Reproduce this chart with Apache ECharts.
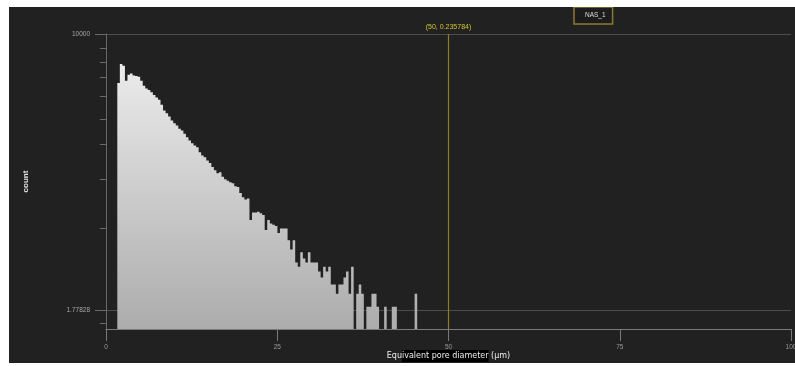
<!DOCTYPE html>
<html>
<head>
<meta charset="utf-8">
<script src="https://cdn.jsdelivr.net/npm/echarts@6/dist/echarts.min.js"></script>
<style>
  html, body { margin: 0; padding: 0; background: #ffffff; width: 795px; height: 366px; overflow: hidden; }
  #chart { position: absolute; left: 9px; top: 7px; width: 786px; height: 356px; }
</style>
</head>
<body>
<div id="chart"></div>
<script>
// Histogram of equivalent pore diameters (log-scaled counts)
const seriesName = 'NAS_1';
const xAxisName = 'Equivalent pore diameter (µm)';
const yAxisName = 'count';

// bins: first bin starts at binStart, all bins share binWidth (µm)
const binStart = 1.65;
const binWidth = 0.371;
const counts = [
  2170, 3910, 3710, 2330, 2800, 2920, 2740, 2700, 2630, 2330,
  1990, 1830, 1740, 1620, 1490, 1380, 1280, 1100, 916, 841,
  759, 670, 617, 574, 518, 491, 444, 399, 360, 331,
  308, 292, 250, 226, 214, 193, 178, 157, 142, 129,
  133, 116, 107, 102, 98, 95, 86, 84, 70, 61,
  57, 59, 30, 38, 38, 39, 37, 35, 22, 30,
  27, 26, 25, 20, 23, 23, 23, 16, 12, 16,
  8, 7, 11, 9, 8, 11, 8, 8, 8, 6,
  5, 7, 6, 7, 4, 4, 3, 4, 4, 5,
  6, 3, 7, 0, 3, 4, 3, 0, 2, 2,
  3, 3, 2, 0, 0, 2, 0, 0, 2, 2,
  0, 0, 0, 0, 0, 0, 0, 3
];

const xMin = 0, xMax = 100, xInterval = 25;
const yMin = 1, yMax = 10000;
const yLabelValues = [1.77828, 10000];
const yLabelTexts = ['1.77828', '10000'];
const yMinorTicks = [1.19, 23.5, 106, 315, 707, 1428, 2578, 4110, 6430];

const cursorX = 50;
const cursorLabel = '(50, 0.235784)';

const FONT = '"Liberation Sans", "DejaVu Sans", sans-serif';
const NAME_FONT = '"DejaVu Sans", sans-serif';

const binData = counts.map((c, i) => [binStart + i * binWidth, binStart + (i + 1) * binWidth, c]);

const chart = echarts.init(document.getElementById('chart'), null, { renderer: 'canvas' });

// The whole histogram outline is drawn as one polygon so adjacent bins join without seams.
function renderHistogram(params, api) {
  if (params.dataIndex !== 0) return null;
  const pts = [];
  pts.push(api.coord([binData[0][0], yMin]));
  for (const [x0, x1, c] of binData) {
    const v = Math.max(c, yMin);
    pts.push(api.coord([x0, v]));
    pts.push(api.coord([x1, v]));
  }
  pts.push(api.coord([binData[binData.length - 1][1], yMin]));
  const gTop = api.coord([binData[0][0], yMax])[1];
  const gBottom = api.coord([binData[0][0], yMin])[1];
  return {
    type: 'polygon',
    shape: { points: pts },
    style: {
      fill: new echarts.graphic.LinearGradient(0, gTop, 0, gBottom, [
        { offset: 0, color: '#f2f2f2' },
        { offset: 1, color: '#acacac' }
      ], true)
    }
  };
}

chart.setOption({
  backgroundColor: '#212121',
  animation: false,
  grid: { left: 97, right: 4, top: 27, bottom: 34, containLabel: false, outerBoundsMode: 'none' },
  legend: {
    data: [{ name: seriesName, icon: 'rect' }],
    left: 565, top: 0,
    itemWidth: 0, itemHeight: 0, itemGap: 0,
    padding: [5, 7, 5, 6],
    borderColor: '#8a7b2e', borderWidth: 1.5,
    backgroundColor: '#1c1c1c',
    selectedMode: false,
    textStyle: { color: '#dddddd', fontSize: 6.5, fontFamily: FONT }
  },
  xAxis: {
    type: 'value', min: xMin, max: xMax, interval: xInterval,
    name: '{a|' + xAxisName.slice(0, 3) + '}{b|' + xAxisName.slice(3, 24) + '}{a|' + xAxisName.slice(24) + '}',
    nameLocation: 'middle', nameGap: 21, nameMoveOverlap: false,
    nameTextStyle: {
      color: '#eeeeee', fontSize: 8, fontFamily: NAME_FONT,
      rich: {
        a: { color: '#eeeeee', fontSize: 8, fontFamily: NAME_FONT, padding: [2, 0, 2, 0] },
        b: { color: '#eeeeee', fontSize: 8, fontFamily: NAME_FONT, backgroundColor: '#000000', padding: [2, 0, 2, 0] }
      }
    },
    axisLine: { show: true, lineStyle: { color: '#7a7a7a', width: 1 } },
    axisTick: { show: true, length: 12, lineStyle: { color: '#7a7a7a' } },
    axisLabel: { color: '#9a9a9a', fontSize: 6.5, fontFamily: FONT, margin: 15 },
    splitLine: { show: false }
  },
  yAxis: [
    {
      type: 'log', logBase: 10, min: yMin, max: yMax,
      name: yAxisName, nameLocation: 'middle', nameGap: 76, nameMoveOverlap: false,
      nameTextStyle: { color: '#e6e6e6', fontSize: 8, fontWeight: 'bold', fontFamily: FONT },
      axisLine: { show: true, lineStyle: { color: '#6a6a6a', width: 1 } },
      axisTick: { show: true, length: 11, customValues: yLabelValues, lineStyle: { color: '#6a6a6a' } },
      axisLabel: {
        customValues: yLabelValues,
        color: '#a8a8a8', fontSize: 6.5, fontFamily: FONT, margin: 16,
        formatter: (v) => {
          const i = yLabelValues.findIndex(t => Math.abs(Math.log10(t) - Math.log10(v)) < 1e-3);
          return i >= 0 ? yLabelTexts[i] : '';
        }
      },
      splitLine: { show: true, lineStyle: { color: '#4c4c4c', width: 1 } },
      minorTick: { show: false }
    },
    {
      type: 'log', logBase: 10, min: yMin, max: yMax, position: 'left',
      axisLine: { show: false },
      axisTick: { show: true, length: 6, customValues: yMinorTicks, lineStyle: { color: '#6a6a6a' } },
      axisLabel: { show: false },
      splitLine: { show: false }
    }
  ],
  series: [
    {
      name: seriesName,
      type: 'custom',
      xAxisIndex: 0, yAxisIndex: 0,
      encode: { x: [0, 1], y: 2 },
      data: binData,
      renderItem: renderHistogram,
      markLine: {
        silent: true, symbol: 'none', animation: false,
        lineStyle: { color: '#8c7d2c', width: 1.2, type: 'solid' },
        label: { show: true, position: 'end', formatter: cursorLabel, color: '#d4c430', fontSize: 7, fontFamily: FONT, distance: 3 },
        data: [{ xAxis: cursorX }]
      }
    }
  ]
});
</script>
</body>
</html>
